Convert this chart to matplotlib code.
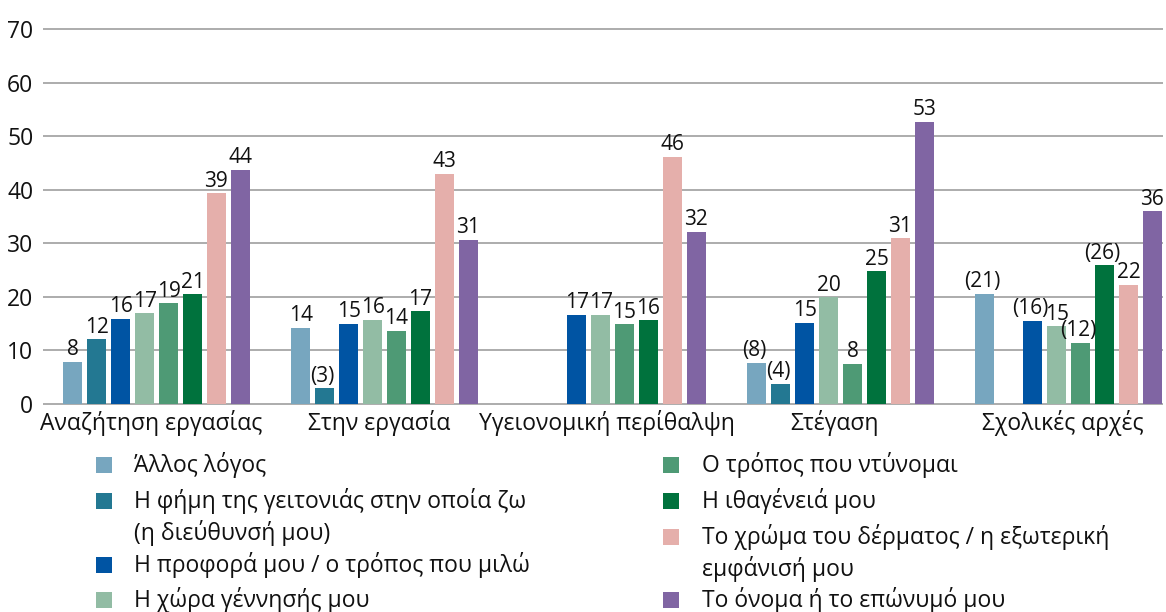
import numpy as np
import matplotlib
matplotlib.use("Agg")
import matplotlib.pyplot as plt
from matplotlib.patches import Rectangle

plt.rcParams['font.family'] = ['Open Sans', 'DejaVu Sans']

# categories
groups = ['Αναζήτηση εργασίας', 'Στην εργασία', 'Υγειονομική περίθαλψη',
          'Στέγαση', 'Σχολικές αρχές']

# series names
series = ['Άλλος λόγος',
          'Η φήμη της γειτονιάς στην οποία ζω\n(η διεύθυνσή μου)',
          'Η προφορά μου / ο τρόπος που μιλώ',
          'Η χώρα γέννησής μου',
          'Ο τρόπος που ντύνομαι',
          'Η ιθαγένειά μου',
          'Το χρώμα του δέρματος / η εξωτερική\nεμφάνισή μου',
          'Το όνομα ή το επώνυμό μου']

colors = ['#77a6bf', '#237892', '#0054a3', '#92bca4',
          '#4e9a75', '#00723d', '#e5afab', '#8065a3']

nan = np.nan
# bar heights per series (one value per group)
allos = [7.9, 14.2, nan, 7.7, 20.6]
fimi = [12.1, 2.9, nan, 3.8, nan]
proforá = [15.9, 15.0, 16.7, 15.2, 15.5]
xora = [16.9, 15.7, 16.7, 19.9, 14.5]
ntynomai = [18.8, 13.7, 14.9, 7.5, 11.4]
ithageneia = [20.5, 17.3, 15.6, 24.8, 25.9]
xroma = [39.3, 43.0, 46.2, 30.9, 22.3]
onoma = [43.7, 30.6, 32.2, 52.7, 36.0]
values = [allos, fimi, proforá, xora, ntynomai, ithageneia, xroma, onoma]

# printed labels (rounded values as shown)
labels = [[8, 14, None, 8, 21],
          [12, 3, None, 4, None],
          [16, 15, 17, 15, 16],
          [17, 16, 17, 20, 15],
          [19, 14, 15, 8, 12],
          [21, 17, 16, 25, 26],
          [39, 43, 46, 31, 22],
          [44, 31, 32, 53, 36]]

# low base values shown in brackets
bracketed = [[False, False, False, True, True],
             [False, True, False, True, False],
             [False, False, False, False, True],
             [False, False, False, False, False],
             [False, False, False, False, True],
             [False, False, False, False, True],
             [False, False, False, False, False],
             [False, False, False, False, False]]

yticks = [0, 10, 20, 30, 40, 50, 60, 70]

fig = plt.figure(figsize=(11.66, 6.12), dpi=100)
ax = fig.add_axes([43 / 1166, 1 - 404 / 612, 1120 / 1166, 375 / 612])

x = np.arange(len(groups))
step = 0.105
width = 0.083
for j, (vals, col) in enumerate(zip(values, colors)):
    pos = x + (j - 3.5) * step
    ax.bar(pos, vals, width=width, color=col, zorder=3)
    for k, v in enumerate(vals):
        if labels[j][k] is None:
            continue
        txt = str(labels[j][k])
        xt = pos[k]
        if bracketed[j][k]:
            txt = '(' + txt + ')'
            xt -= 0.012
        ax.text(xt, v + 0.3, txt, ha='center', va='bottom',
                fontsize=15, color='#111111', zorder=4)

ax.set_xlim(-0.498, 4.414)
ax.set_ylim(0, 70)
ax.hlines(yticks, -0.498, 4.414, colors='#a6a6a6', linewidth=1.3,
          clip_on=False, zorder=1)
ax.set_yticks(yticks)
ax.set_yticklabels([str(t) for t in yticks], fontsize=16.5, color='#111111')
ax.set_xticks(x - 0.025)
ax.set_xticklabels(groups, fontsize=16.5, color='#111111')
ax.tick_params(axis='both', length=0)
ax.tick_params(axis='y', pad=7)
ax.tick_params(axis='x', pad=4)
for s in ax.spines.values():
    s.set_visible(False)

# legend, two columns, marker aligned with first text line
leg_left = [(0, 465), (1, 501), (2, 565), (3, 600)]
leg_right = [(4, 465), (5, 501), (6, 537), (7, 600)]
for items, mx, tx in [(leg_left, 96, 134), (leg_right, 663, 702)]:
    for idx, ypx in items:
        fig.patches.append(Rectangle((mx / 1166, 1 - (ypx + 8) / 612),
                                     16 / 1166, 16 / 612,
                                     transform=fig.transFigure,
                                     facecolor=colors[idx], edgecolor='none'))
        fig.text(tx / 1166, 1 - (ypx - 13) / 612, series[idx],
                 fontsize=16.5, va='top', ha='left', color='#111111',
                 linespacing=1.3)

fig.savefig('out.png', dpi=100)
